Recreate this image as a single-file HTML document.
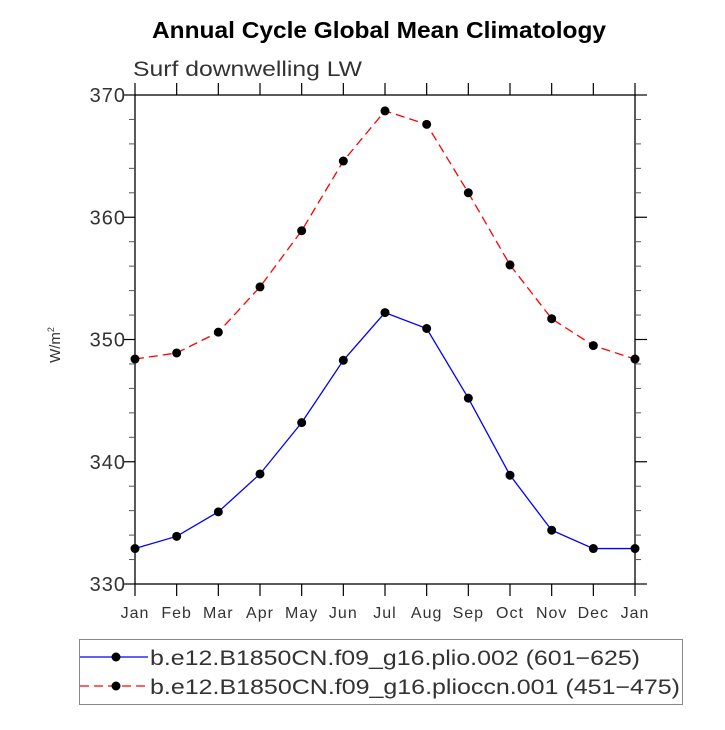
<!DOCTYPE html>
<html><head><meta charset="utf-8"><style>
body{margin:0;background:#fff;}
svg text{font-family:"Liberation Sans",sans-serif;}
</style></head><body>
<svg id="chart" width="725" height="725" viewBox="0 0 725 725" xmlns="http://www.w3.org/2000/svg">
<text x="152" y="38" textLength="454" lengthAdjust="spacingAndGlyphs" font-size="23" font-weight="bold">Annual Cycle Global Mean Climatology</text>
<text x="133" y="76" textLength="229" lengthAdjust="spacingAndGlyphs" font-size="21" fill="#333">Surf downwelling LW</text>
<text transform="translate(60,345) rotate(-90)" text-anchor="middle" font-size="15" fill="#333">W/m<tspan font-size="9" dy="-6">2</tspan></text>
<g id="axes"></g>
<g id="series"></g>
<g>
<rect x="79.5" y="639.5" width="603" height="65" fill="#fff" stroke="#888"/>
<g>
<line x1="80" y1="657" x2="148" y2="657" stroke="#0000ff" stroke-width="1.3"/>
<circle cx="116" cy="657" r="4.5" fill="#000"/>
<text x="150" y="665" textLength="490" lengthAdjust="spacingAndGlyphs" font-size="21" fill="#333">b.e12.B1850CN.f09_g16.plio.002 (601−625)</text>
</g>
<g>
<line x1="80" y1="686" x2="148" y2="686" stroke="#ff0000" stroke-width="1.3" stroke-dasharray="9,5"/>
<circle cx="116" cy="686" r="4.5" fill="#000"/>
<text x="150" y="694" textLength="530" lengthAdjust="spacingAndGlyphs" font-size="21" fill="#333">b.e12.B1850CN.f09_g16.plioccn.001 (451−475)</text>
</g>
</g>
</svg>
<script>
const months = ["Jan","Feb","Mar","Apr","May","Jun","Jul","Aug","Sep","Oct","Nov","Dec","Jan"];
const plioValues = [332.9,333.9,335.9,339.0,343.2,348.3,352.2,350.9,345.2,338.9,334.4,332.9,332.9];
const pliocenValues = [348.4,348.9,350.6,354.3,358.9,364.6,368.7,367.6,362.0,356.1,351.7,349.5,348.4];
const yTicks = [330,340,350,360,370];
const yMinorTicks = [332,334,336,338,342,344,346,348,352,354,356,358,362,364,366,368];

const L=135,R=635,T=95,B=584,yMin=330,yMax=370;
const xs = i => L + i*(R-L)/(months.length-1);
const ys = v => B - (v-yMin)*(B-T)/(yMax-yMin);
const NS="http://www.w3.org/2000/svg";
const axes=document.getElementById('axes'), series=document.getElementById('series');
function mk(tag,attrs,parent){const e=document.createElementNS(NS,tag);for(const k in attrs)e.setAttribute(k,attrs[k]);parent.appendChild(e);return e;}

const frame=mk('rect',{x:L,y:T,width:R-L,height:B-T,fill:'none',stroke:'#000','stroke-width':1.3},axes);


months.forEach((m,i)=>{
  const x=xs(i);
  mk('line',{x1:x,y1:B,x2:x,y2:B+12,stroke:'#000','stroke-width':1.2},axes);
  mk('line',{x1:x,y1:T,x2:x,y2:T-12,stroke:'#000','stroke-width':1.2},axes);
  const t=mk('text',{x:x,y:B+34,'text-anchor':'middle','font-size':16,fill:'#333','letter-spacing':1},axes);
  t.textContent=m;
  
  
});
yTicks.forEach(v=>{
  const y=ys(v);
  mk('line',{x1:L-12,y1:y,x2:L,y2:y,stroke:'#000','stroke-width':1.2},axes);
  mk('line',{x1:R,y1:y,x2:R+12,y2:y,stroke:'#000','stroke-width':1.2},axes);
  const t=mk('text',{x:L-9,y:y+7,'text-anchor':'end','font-size':20,fill:'#333','letter-spacing':1},axes);
  t.textContent=v;
  
  
});
yMinorTicks.forEach(v=>{
  const y=ys(v);
  mk('line',{x1:L-6,y1:y,x2:L,y2:y,stroke:'#555','stroke-width':1},axes);
  mk('line',{x1:R,y1:y,x2:R+6,y2:y,stroke:'#555','stroke-width':1},axes);
});
function draw(vals,color,dash,name){
  const g=mk('g',{},series);
  
  
  const pts=vals.map((v,i)=>xs(i)+','+ys(v)).join(' ');
  const attrs={points:pts,fill:'none',stroke:color,'stroke-width':1.3};
  if(dash)attrs['stroke-dasharray']=dash;
  mk('polyline',attrs,g);
  vals.forEach((v,i)=>{
    const c=mk('circle',{cx:xs(i),cy:ys(v),r:4.5,fill:'#000'},g);
    
    
  });
}
draw(plioValues,'#0000ff',null,'series-plio');
draw(pliocenValues,'#ff0000','9,5','series-pliocen');
</script>
</body></html>
